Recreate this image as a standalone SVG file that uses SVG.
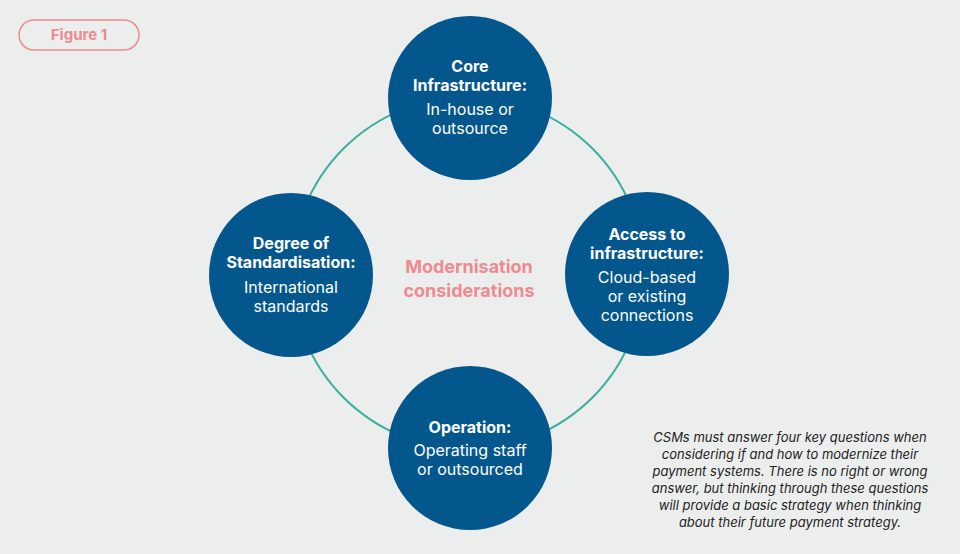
<svg xmlns="http://www.w3.org/2000/svg" width="960" height="554" viewBox="0 0 960 554">
<style>
.n{fill:#04578c}
.t{font-family:Inter,"Liberation Sans",sans-serif;fill:#fff;text-anchor:middle;font-size:16px}
.b{font-weight:bold}
.c{font-family:Inter,"Liberation Sans",sans-serif;font-style:italic;font-size:13px;fill:#222;text-anchor:middle}
</style>
<rect width="960" height="554" fill="#eceeed"/>
<g id="fig"><rect x="19" y="20" width="120" height="30" rx="15" fill="none" stroke="#ee8a90" stroke-width="1.5"/>
<text x="79" y="40" font-family="Inter,'Liberation Sans',sans-serif" font-size="15" font-weight="bold" fill="#ee8a90" text-anchor="middle">Figure 1</text></g>
<g id="connectors"><circle cx="468" cy="273" r="176" fill="none" stroke="#3aafa0" stroke-width="2"/></g>
<g id="top"><circle class="n" cx="470" cy="98" r="82"/>
<text class="t b" x="470" y="72">Core</text><text class="t b" x="470" y="91">Infrastructure:</text>
<text class="t" x="470" y="115">In-house or</text><text class="t" x="470" y="134">outsource</text></g>
<g id="right"><circle class="n" cx="647" cy="274" r="82"/>
<text class="t b" x="647" y="240">Access to</text><text class="t b" x="647" y="259">infrastructure:</text>
<text class="t" x="647" y="283">Cloud-based</text><text class="t" x="647" y="302">or existing</text><text class="t" x="647" y="321">connections</text></g>
<g id="bottom"><circle class="n" cx="470" cy="448" r="82"/>
<text class="t b" x="470" y="433">Operation:</text>
<text class="t" x="470" y="456">Operating staff</text><text class="t" x="470" y="475">or outsourced</text></g>
<g id="left"><circle class="n" cx="291" cy="275" r="82"/>
<text class="t b" x="291" y="249">Degree of</text><text class="t b" x="291" y="268">Standardisation:</text>
<text class="t" x="291" y="293">International</text><text class="t" x="291" y="312">standards</text></g>
<g id="center"><text x="469" y="273" font-family="Inter,'Liberation Sans',sans-serif" font-size="18" font-weight="bold" fill="#ee8a90" text-anchor="middle">Modernisation</text>
<text x="469" y="297" font-family="Inter,'Liberation Sans',sans-serif" font-size="18" font-weight="bold" fill="#ee8a90" text-anchor="middle">considerations</text></g>
<g id="caption"><text class="c" x="790" y="442">CSMs must answer four key questions when</text>
<text class="c" x="790" y="459">considering if and how to modernize their</text>
<text class="c" x="790" y="476">payment systems. There is no right or wrong</text>
<text class="c" x="790" y="493">answer, but thinking through these questions</text>
<text class="c" x="790" y="510">will provide a basic strategy when thinking</text>
<text class="c" x="790" y="527">about their future payment strategy.</text></g>
</svg>
